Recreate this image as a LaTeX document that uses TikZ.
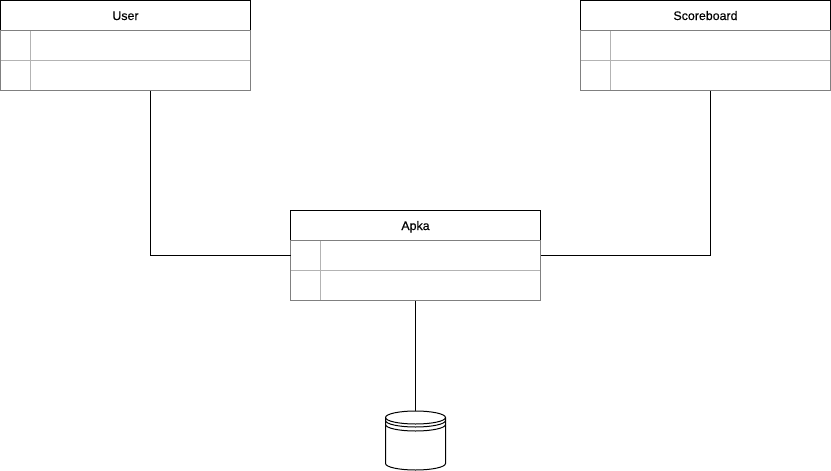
\documentclass[tikz,border=0pt]{standalone}
\usepackage{fontspec}
\setmainfont[FakeBold=0.25]{Liberation Sans}
\usetikzlibrary{positioning}
\definecolor{rowedge}{HTML}{B3B3B3}
\definecolor{tableedge}{HTML}{808080}
\tikzset{
  x=1pt,y=-1pt,
  every path/.style={line width=1pt},
  headbox/.style={draw=black,fill=white,minimum width=250pt,minimum height=30pt,inner sep=0pt,outer sep=0pt},
  headtext/.style={inner sep=0pt,font=\fontsize{12.4}{14}\selectfont,text=black},
  rowbox/.style={draw=rowedge,minimum width=250pt,minimum height=30pt,inner sep=0pt,outer sep=0pt},
  framebox/.style={draw=tableedge,line width=1pt},
  link/.style={draw=black,line width=1pt},
  store/.style={draw=black,fill=white,line width=1pt}
}
\newcommand{\tablerows}[3]{%
  \node[headbox] (#1) at (#2,#3) {};
  \node[headtext,anchor=base] (#1t) at ([yshift=-4.5pt]#1.center) {#1};
  \node[rowbox,below=0pt of #1] (#1a) {};
  \node[rowbox,below=0pt of #1a] (#1b) {};
  \draw[rowedge] ([xshift=30pt]#1a.north west) -- ([xshift=30pt]#1b.south west);
  \draw[framebox] (#1a.north west) rectangle (#1b.south east);
}
\begin{document}
\begin{tikzpicture}
\useasboundingbox (0,0) rectangle (831,471);
\tablerows{User}{125.5}{15.5}
\tablerows{Scoreboard}{705.5}{15.5}
\tablerows{Apka}{415.5}{225.5}
% data store
\coordinate (dbtop) at (415.5,411);
\path[store] (385.5,417.5) arc[start angle=180,end angle=0,x radius=30pt,y radius=6.5pt]
  -- (445.5,463.5) arc[start angle=0,end angle=-180,x radius=30pt,y radius=6.5pt] -- cycle;
\draw[store,fill=none] (385.5,417.5) arc[start angle=180,end angle=360,x radius=30pt,y radius=6.5pt];
\draw[store,fill=none] (385.5,420.5) arc[start angle=180,end angle=360,x radius=30pt,y radius=6.5pt];
\draw[store,fill=none] (385.5,424.5) arc[start angle=180,end angle=360,x radius=30pt,y radius=6.5pt];
\draw[link] ([xshift=25pt]Userb.south) |- (Apkaa.west);
\draw[link] ([xshift=5pt]Scoreboardb.south) |- (Apkaa.east);
\draw[link] (Apkab.south) -- (dbtop);
\end{tikzpicture}
\end{document}
